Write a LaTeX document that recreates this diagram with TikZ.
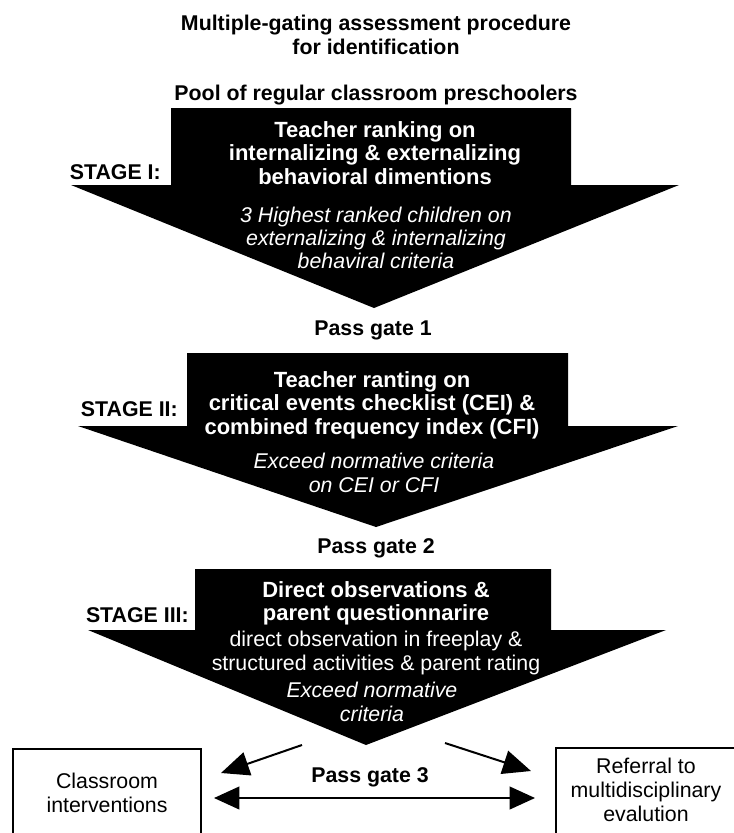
\documentclass[tikz,border=0pt]{standalone}
\usepackage{fontspec}
\setmainfont{Liberation Sans}
\usetikzlibrary{arrows.meta}
\begin{document}
\begin{tikzpicture}[x=0.75pt,y=-0.75pt,
  every node/.style={inner sep=0pt, align=center},
  ttl/.style={font=\fontsize{16}{18}\selectfont\bfseries},
  stagelbl/.style={font=\fontsize{16}{18}\selectfont\bfseries, anchor=east},
  wb/.style={font=\fontsize{16.5}{17.5}\selectfont\bfseries, text=white},
  wr/.style={font=\fontsize{16}{17.5}\selectfont, text=white},
  wi/.style={font=\fontsize{16}{17.5}\selectfont\itshape, text=white},
  bigarrow/.style={fill=black},
  boxtxt/.style={font=\fontsize{16}{18}\selectfont},
  outbox/.style={draw=black, line width=1.2pt, anchor=north west, minimum height=75pt},
  gatearrow/.style={line width=1.5pt, -{Triangle[length=21pt,width=18pt]}},
  gatedouble/.style={line width=1.5pt, {Triangle[length=19pt,width=17pt]}-{Triangle[length=19pt,width=17pt]}}
]
\useasboundingbox (0,0) rectangle (734,833);

% title
\node[ttl] (title) at (376,35) {Multiple-gating assessment procedure\\for identification};
\node[ttl] (pool) at (376,95) {Pool of regular classroom preschoolers};

% stage I arrow
\fill[bigarrow] (171,108) -- (571,108) -- (571,185) -- (679,185) -- (374,308)
  -- (71,185) -- (171,185) -- cycle;
\node[stagelbl] (s1) at (161,172) {STAGE I:};
\node[wb] (s1a) at (375,153) {Teacher ranking on\\internalizing \& externalizing\\behavioral dimentions};
\node[wi] (s1b) at (376,238) {3 Highest ranked children on\\externalizing \& internalizing\\behaviral criteria};
\node[ttl] (g1) at (373,330) {Pass gate 1};

% stage II arrow
\fill[bigarrow] (187,353) -- (568,353) -- (568,426) -- (678,426) -- (376,527)
  -- (78,426) -- (187,426) -- cycle;
\node[stagelbl] (s2) at (178,409) {STAGE II:};
\node[wb] (s2a) at (372,405) {Teacher ranting on\\critical events checklist (CEI) \&\\combined frequency index (CFI)};
\node[wi] (s2b) at (374,473) {Exceed normative criteria\\on CEI or CFI};
\node[ttl] (g2) at (376,548) {Pass gate 2};

% stage III arrow
\fill[bigarrow] (195,569) -- (551,569) -- (551,630) -- (666,630) -- (366,745)
  -- (88,630) -- (195,630) -- cycle;
\node[stagelbl] (s3) at (189,615) {STAGE III:};
\node[wb] (s3a) at (376,603) {Direct observations \&\\parent questionnarire};
\node[wr] (s3b) at (376,653) {direct observation in freeplay \&\\structured activities \& parent rating};
\node[wi] (s3c) at (372,702) {Exceed normative\\criteria};

% outcome boxes (they run past the lower and right edges)
\node[outbox, minimum width=141pt] (lbox) at (12,748) {};
\node[outbox, minimum width=150pt] (rbox) at (555,747) {};
\node[boxtxt] (ltxt) at (107,793) {Classroom\\interventions};
\node[boxtxt] (rtxt) at (646,790) {Referral to\\multidisciplinary\\evalution};

% gate 3 arrows
\coordinate (la0) at (302,745);
\coordinate (la1) at (221,773);
\coordinate (ra0) at (445,743);
\coordinate (ra1) at (531,771);
\coordinate (dl) at (214,798);
\coordinate (dr) at (535,798);
\draw[gatearrow] (la0) -- (la1);
\draw[gatearrow] (ra0) -- (ra1);
\draw[gatedouble] (dl) -- (dr);
\node[ttl] (g3) at (370,777) {Pass gate 3};
\end{tikzpicture}
\end{document}
